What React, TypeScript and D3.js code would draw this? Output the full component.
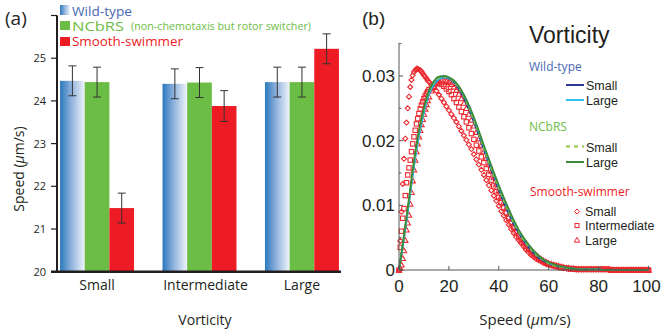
import React from "react";
import * as d3 from "d3";

// ---- panel (a): mean speed per vorticity class ----
const VORTICITY = ["Small", "Intermediate", "Large"];
const STRAINS = ["Wild-type", "NCbRS", "Smooth-swimmer"];
const WT_MEAN = [24.47, 24.4, 24.44];
const NCBRS_MEAN = [24.44, 24.43, 24.44];
const SS_MEAN = [21.49, 23.88, 25.22];
const WT_ERR = [0.35, 0.35, 0.35];
const NCBRS_ERR = [0.35, 0.35, 0.35];
const SS_ERR = [0.35, 0.36, 0.35];
const Y_TICKS_A = [20, 21, 22, 23, 24, 25, 26];
const Y_LABELS_A = [20, 21, 22, 23, 24, 25];

// ---- panel (b): speed distributions ----
const X_TICKS_B = [0, 20, 40, 60, 80, 100];
const Y_TICKS_B = [0, 0.01, 0.02, 0.03];
const Y_MINOR_B = [0.005, 0.015, 0.025, 0.035];

// bin centres of the distributions (um/s)
const LINE_SPEED = d3.range(0, 101, 2);
const SS_SPEED = [...d3.range(0, 12, 0.5), ...d3.range(12, 101, 1)];

const WT_SMALL = [
  0, 0.005, 0.0105, 0.0163, 0.021, 0.0246, 0.0272, 0.0287, 0.0295, 0.0298,
  0.0296, 0.029, 0.028, 0.0266, 0.0249, 0.0229, 0.0208, 0.0186, 0.0165, 0.0144,
  0.0124, 0.0105, 0.0087, 0.0071, 0.0057, 0.0045, 0.0035, 0.0026, 0.0019, 0.0014,
  0.001, 0.0007, 0.0005, 0.0004, 0.0003, 0.0002,
  0.0001, 0.0001, 0.0001, 0.0001, 0.0001, 0, 0, 0, 0, 0, 0, 0, 0, 0, 0,
];
const WT_LARGE = [
  0, 0.0049, 0.0103, 0.016, 0.0207, 0.0244, 0.0271, 0.0287, 0.0295, 0.0298,
  0.0297, 0.0292, 0.0283, 0.027, 0.0253, 0.0234, 0.0213, 0.0191, 0.017, 0.0149,
  0.0129, 0.011, 0.0092, 0.0075, 0.0061, 0.0048, 0.0038, 0.0029, 0.0021, 0.0016,
  0.0011, 0.0008, 0.0006, 0.0004, 0.0003, 0.0002,
  0.0001, 0.0001, 0.0001, 0.0001, 0.0001, 0, 0, 0, 0, 0, 0, 0, 0, 0, 0,
];
const NCBRS_SMALL = [
  0, 0.0052, 0.0108, 0.0166, 0.0213, 0.0249, 0.0275, 0.029, 0.0297, 0.0299,
  0.0297, 0.0291, 0.0282, 0.0268, 0.0251, 0.0231, 0.021, 0.0188, 0.0167, 0.0146,
  0.0126, 0.0107, 0.0089, 0.0073, 0.0059, 0.0046, 0.0036, 0.0027, 0.002, 0.0015,
  0.001, 0.0007, 0.0005, 0.0004, 0.0003, 0.0002,
  0.0001, 0.0001, 0.0001, 0.0001, 0.0001, 0, 0, 0, 0, 0, 0, 0, 0, 0, 0,
];
const NCBRS_LARGE = [
  0, 0.0054, 0.0111, 0.0169, 0.0216, 0.0251, 0.0277, 0.0292, 0.0299, 0.03,
  0.0298, 0.0293, 0.0284, 0.0271, 0.0255, 0.0236, 0.0215, 0.0193, 0.0172, 0.0151,
  0.0131, 0.0112, 0.0094, 0.0077, 0.0062, 0.005, 0.0039, 0.003, 0.0022, 0.0016,
  0.0012, 0.0009, 0.0006, 0.0005, 0.0003, 0.0002,
  0.0001, 0.0001, 0.0001, 0.0001, 0.0001, 0, 0, 0, 0, 0, 0, 0, 0, 0, 0,
];

const SS_SMALL = [
  // 0 .. 11.5
  0, 0.0045, 0.009, 0.0133, 0.0172, 0.0203, 0.0228, 0.025, 0.0268, 0.0283,
  0.0294, 0.0301, 0.0306, 0.0309, 0.0311, 0.0311, 0.031, 0.0309, 0.0307, 0.0304,
  0.0301, 0.0299, 0.0296, 0.0293,
  // 12 .. 70
  0.0291, 0.0287, 0.0282, 0.0277, 0.0271, 0.0265, 0.0259, 0.0253, 0.0247, 0.0241,
  0.0235, 0.0229, 0.0222, 0.0215, 0.0208, 0.0201, 0.0194, 0.0187, 0.0179, 0.0171,
  0.0163, 0.0155, 0.0147, 0.0139, 0.0131, 0.0123, 0.0115, 0.0107, 0.0099, 0.0091,
  0.0084, 0.0077, 0.007, 0.0063, 0.0057, 0.0051, 0.0046, 0.0041, 0.0036, 0.0031,
  0.0027, 0.0023, 0.002, 0.0017, 0.0015, 0.0013, 0.0011, 0.0009, 0.0008, 0.0007,
  0.0006, 0.0005, 0.0004, 0.0004, 0.0003, 0.0003, 0.0002, 0.0002, 0.0002,
  // 71 .. 100
  0.0001, 0.0001, 0.0001, 0.0001, 0.0001, 0.0001, 0.0001, 0.0001, 0.0001, 0.0001,
  0.0001, 0.0001, 0.0001, 0.0001, 0, 0, 0, 0, 0, 0, 0, 0, 0, 0, 0, 0, 0, 0, 0, 0,
];
const SS_MID = [
  0, 0.0035, 0.006, 0.008, 0.0095, 0.0115, 0.0135, 0.0147, 0.0158, 0.017,
  0.0183, 0.0195, 0.0206, 0.0216, 0.0226, 0.0234, 0.0242, 0.0249, 0.0255, 0.026,
  0.0265, 0.0269, 0.0273, 0.0276,
  0.0279, 0.0284, 0.0287, 0.0289, 0.0289, 0.0287, 0.0284, 0.028, 0.0276, 0.0271,
  0.0265, 0.0259, 0.0252, 0.0245, 0.0237, 0.0229, 0.022, 0.0211, 0.0202, 0.0193,
  0.0184, 0.0175, 0.0166, 0.0157, 0.0148, 0.0139, 0.013, 0.0121, 0.0112, 0.0104,
  0.0096, 0.0088, 0.008, 0.0073, 0.0066, 0.0059, 0.0053, 0.0047, 0.0042, 0.0037,
  0.0032, 0.0028, 0.0024, 0.0021, 0.0018, 0.0015, 0.0013, 0.0011, 0.0009, 0.0008,
  0.0007, 0.0006, 0.0005, 0.0004, 0.0003, 0.0003, 0.0002, 0.0002, 0.0002,
  0.0001, 0.0001, 0.0001, 0.0001, 0.0001, 0.0001, 0.0001, 0.0001, 0.0001, 0.0001,
  0.0001, 0.0001, 0.0001, 0.0001, 0, 0, 0, 0, 0, 0, 0, 0, 0, 0, 0, 0, 0, 0, 0, 0,
];
const SS_LARGE = [
  0, 0.0003, 0.0008, 0.0018, 0.003, 0.0046, 0.0062, 0.0073, 0.0085, 0.0102,
  0.012, 0.0138, 0.0155, 0.017, 0.0183, 0.0195, 0.0206, 0.0216, 0.0225, 0.0233,
  0.0241, 0.0249, 0.0256, 0.0262,
  0.0268, 0.0277, 0.0284, 0.0288, 0.0291, 0.0293, 0.0293, 0.0292, 0.029, 0.0287,
  0.0283, 0.0278, 0.0272, 0.0265, 0.0258, 0.025, 0.0241, 0.0232, 0.0223, 0.0213,
  0.0203, 0.0193, 0.0183, 0.0173, 0.0163, 0.0153, 0.0143, 0.0133, 0.0123, 0.0114,
  0.0105, 0.0096, 0.0087, 0.0079, 0.0071, 0.0064, 0.0057, 0.005, 0.0044, 0.0039,
  0.0034, 0.003, 0.0026, 0.0022, 0.0019, 0.0016, 0.0014, 0.0012, 0.001, 0.0009,
  0.0008, 0.0007, 0.0006, 0.0005, 0.0004, 0.0003, 0.0003, 0.0002, 0.0002,
  0.0001, 0.0001, 0.0001, 0.0001, 0.0001, 0.0001, 0.0001, 0.0001, 0.0001, 0.0001,
  0.0001, 0.0001, 0.0001, 0.0001, 0, 0, 0, 0, 0, 0, 0, 0, 0, 0, 0, 0, 0, 0, 0, 0,
];

const BLUE_TXT = "#4a68b4";
const GREEN = "#6cbd45";
const RED = "#ed1c24";
const MARKER_RED = "#ec2a30";
const FONT_A = "'Open Sans', sans-serif";
const FONT_B = "'Liberation Sans', Arial, sans-serif";

function BarPanel() {
  const x = d3.scaleBand().domain(VORTICITY).range([57, 342]).paddingInner(0.278).paddingOuter(0.03);
  const xs = d3.scaleBand().domain(STRAINS).range([0, x.bandwidth()]);
  const y = d3.scaleLinear().domain([20, 26]).range([271.7, 15.5]);
  const series = [
    { name: STRAINS[0], mean: WT_MEAN, err: WT_ERR, fill: "url(#wtGrad)" },
    { name: STRAINS[1], mean: NCBRS_MEAN, err: NCBRS_ERR, fill: GREEN },
    { name: STRAINS[2], mean: SS_MEAN, err: SS_ERR, fill: RED },
  ];
  return (
    <g fontFamily={FONT_A}>
      <text x={5} y={25} fontSize={19} fill="#231f20">(a)</text>
      {series.map((s) =>
        VORTICITY.map((v, i) => {
          const bx = (x(v) as number) + (xs(s.name) as number);
          const w = xs.bandwidth();
          const cx = bx + w / 2;
          return (
            <g key={s.name + v}>
              <rect x={bx} y={y(s.mean[i])} width={w} height={y(20) - y(s.mean[i])} fill={s.fill} />
              <line x1={cx} x2={cx} y1={y(s.mean[i] + s.err[i])} y2={y(s.mean[i] - s.err[i])} stroke="#333" strokeWidth={1} />
              <line x1={cx - 4} x2={cx + 4} y1={y(s.mean[i] + s.err[i])} y2={y(s.mean[i] + s.err[i])} stroke="#333" strokeWidth={1} />
              <line x1={cx - 4} x2={cx + 4} y1={y(s.mean[i] - s.err[i])} y2={y(s.mean[i] - s.err[i])} stroke="#333" strokeWidth={1} />
            </g>
          );
        })
      )}
      {/* axes */}
      <line x1={57} x2={57} y1={y(26)} y2={y(20) + 1} stroke="#231f20" strokeWidth={2} />
      <line x1={51} x2={341} y1={y(20)} y2={y(20)} stroke="#231f20" strokeWidth={2.5} />
      {Y_TICKS_A.map((t) => (
        <line key={t} x1={51} x2={57} y1={y(t)} y2={y(t)} stroke="#231f20" strokeWidth={1.2} />
      ))}
      {Y_LABELS_A.map((t) => (
        <text key={t} x={46} y={y(t) + 4} fontSize={11} textAnchor="end" fill="#231f20">{t}</text>
      ))}
      {VORTICITY.map((v) => (
        <text key={v} x={(x(v) as number) + x.bandwidth() / 2 + (v === "Intermediate" ? 6 : 0)} y={290} fontSize={14} textAnchor="middle" fill="#231f20">{v}</text>
      ))}
      <text x={205} y={325} fontSize={14} textAnchor="middle" fill="#231f20">Vorticity</text>
      <text transform="translate(24,169) rotate(-90)" fontSize={14} textAnchor="middle" fill="#231f20">
        Speed (<tspan fontStyle="italic">μ</tspan>m/s)
      </text>
      {/* legend */}
      <rect x={60} y={5} width={10} height={10} fill="url(#wtGrad)" />
      <text x={72} y={15.5} fontSize={13.5} textLength={60} lengthAdjust="spacingAndGlyphs" fill={BLUE_TXT}>Wild-type</text>
      <rect x={60} y={21} width={10} height={9} fill={GREEN} />
      <text x={72} y={30.5} fontSize={13.5} textLength={52} lengthAdjust="spacingAndGlyphs" fill={GREEN}>NCbRS</text>
      <text x={131} y={30} fontSize={11} textLength={180} lengthAdjust="spacingAndGlyphs" fill={GREEN}>(non-chemotaxis but rotor switcher)</text>
      <rect x={60} y={37} width={10} height={9} fill={RED} />
      <text x={72} y={46} fontSize={13.5} textLength={111} lengthAdjust="spacingAndGlyphs" fill={RED}>Smooth-swimmer</text>
    </g>
  );
}

function DistPanel() {
  const x = d3.scaleLinear().domain([0, 100]).range([399, 648.5]);
  const y = d3.scaleLinear().domain([0, 0.03]).range([270, 76]);
  const line = (vals: number[]) =>
    d3.line<number>().x((_, i) => x(LINE_SPEED[i])).y((v) => y(v)).curve(d3.curveMonotoneX)(vals) as string;
  const diamond = (cx: number, cy: number, s = 2.5) => `M${cx},${cy - s}L${cx + s},${cy}L${cx},${cy + s}L${cx - s},${cy}Z`;
  const triangle = (cx: number, cy: number, s = 2.7) => `M${cx},${cy - s}L${cx + s},${cy + s * 0.8}L${cx - s},${cy + s * 0.8}Z`;
  const lines = [
    { vals: WT_SMALL, color: "#2e3a92", dash: undefined },
    { vals: WT_LARGE, color: "#2bb5ea", dash: undefined },
    { vals: NCBRS_SMALL, color: "#8cc63f", dash: "4 3" },
    { vals: NCBRS_LARGE, color: "#3a8a3c", dash: undefined },
  ];
  return (
    <g>
      <text x={362} y={25} fontSize={19} fontFamily={FONT_B} fill="#231f20">(b)</text>
      {/* smooth-swimmer markers */}
      <g fill="none" stroke={MARKER_RED} strokeWidth={1.1}>
        {SS_SPEED.map((s, i) => (
          <path key={"d" + i} d={diamond(x(s), y(SS_SMALL[i]))} />
        ))}
        {SS_SPEED.map((s, i) => (
          <rect key={"s" + i} x={x(s) - 2.2} y={y(SS_MID[i]) - 2.2} width={4.4} height={4.4} />
        ))}
        {SS_SPEED.map((s, i) => (
          <path key={"t" + i} d={triangle(x(s), y(SS_LARGE[i]))} />
        ))}
      </g>
      {lines.map((l, i) => (
        <path key={i} d={line(l.vals)} fill="none" stroke={l.color} strokeWidth={1.8} strokeDasharray={l.dash} />
      ))}
      {/* axes */}
      <g stroke="#555" strokeWidth={1}>
        <line x1={399} x2={399} y1={43} y2={270} />
        <line x1={399} x2={649} y1={270} y2={270} />
        {Y_TICKS_B.map((t) => <line key={t} x1={399} x2={403} y1={y(t)} y2={y(t)} />)}
        {Y_MINOR_B.map((t) => <line key={t} x1={399} x2={401.5} y1={y(t)} y2={y(t)} />)}
        {X_TICKS_B.map((t) => <line key={t} x1={x(t)} x2={x(t)} y1={270} y2={266} />)}
      </g>
      <g fontFamily={FONT_B} fill="#231f20" fontSize={17}>
        {Y_TICKS_B.map((t) => (
          <text key={t} x={395} y={y(t) + 6} textAnchor="end">{t === 0 ? "0" : d3.format(".2f")(t)}</text>
        ))}
        {X_TICKS_B.map((t) => (
          <text key={t} x={x(t) - (t === 100 ? 2 : 0)} y={292} textAnchor="middle">{t}</text>
        ))}
      </g>
      <text x={525} y={325} fontSize={15} fontFamily={FONT_A} textAnchor="middle" fill="#231f20">
        Speed (<tspan fontStyle="italic">μ</tspan>m/s)
      </text>
      {/* legend */}
      <text x={529} y={43} fontSize={23} fontFamily={FONT_B} fill="#231f20">Vorticity</text>
      <g fontFamily={FONT_A} fontSize={12}>
        <text x={529} y={71} fill={BLUE_TXT}>Wild-type</text>
        <text x={529} y={131} fill={GREEN}>NCbRS</text>
        <text x={530} y={196} fill={RED}>Smooth-swimmer</text>
      </g>
      <g strokeWidth={2}>
        <line x1={566} x2={584} y1={85} y2={85} stroke="#2e3a92" />
        <line x1={566} x2={584} y1={100} y2={100} stroke="#2bc4f3" />
        <line x1={566} x2={584} y1={146.5} y2={146.5} stroke="#8cc63f" strokeDasharray="4 4" />
        <line x1={566} x2={584} y1={162} y2={162} stroke="#3a8a3c" />
      </g>
      <g fill="none" stroke={MARKER_RED} strokeWidth={1}>
        <path d={diamond(577, 211.5)} />
        <rect x={575} y={223.5} width={4} height={4} />
        <path d={triangle(577, 240)} />
      </g>
      <g fontFamily={FONT_B} fontSize={12.5} fill="#231f20">
        <text x={586} y={90}>Small</text>
        <text x={586} y={105}>Large</text>
        <text x={586} y={152}>Small</text>
        <text x={586} y={167}>Large</text>
        <text x={585} y={215.5}>Small</text>
        <text x={585} y={230}>Intermediate</text>
        <text x={585} y={244.5}>Large</text>
      </g>
    </g>
  );
}

export default function App() {
  return (
    <svg width={661} height={333} style={{ position: "absolute", left: 0, top: 0, background: "#fff" }}>
      <defs>
        <linearGradient id="wtGrad" x1="0" x2="1" y1="0" y2="0">
          <stop offset="0" stopColor="#2a78bd" />
          <stop offset="0.45" stopColor="#8eb1dc" />
          <stop offset="1" stopColor="#f0f4fb" />
        </linearGradient>
      </defs>
      <BarPanel />
      <DistPanel />
    </svg>
  );
}
